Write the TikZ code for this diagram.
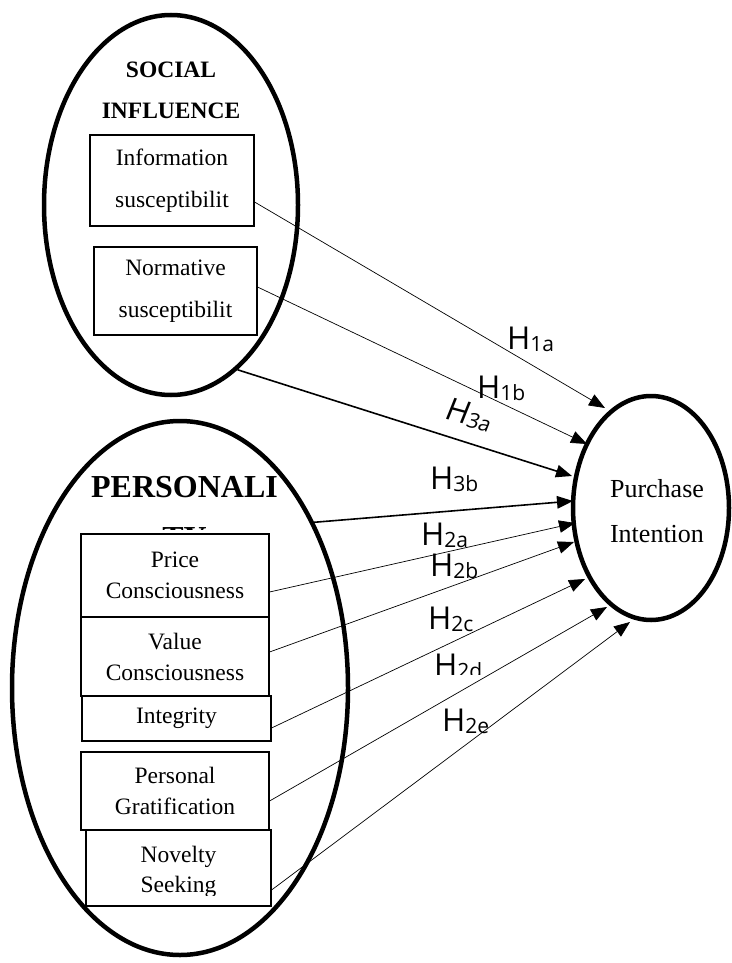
\documentclass[tikz,border=0pt]{standalone}
\usepackage{fontspec}
\setmainfont{Liberation Serif}
\newfontfamily\hfont{Open Sans}
\newfontfamily\hslant[FakeSlant=0.12]{Open Sans}
\usetikzlibrary{shapes.geometric,arrows.meta,calc}

% hypothesis label: H with a lowered subscript
\newcommand{\hyp}[1]{{\fontsize{31.5}{32}\hfont H}\raisebox{-2.5pt}{\fontsize{21}{22}\hfont #1}}
\newcommand{\hypit}[1]{{\fontsize{31.5}{32}\hslant H}\raisebox{-2.5pt}{\fontsize{21}{22}\hslant #1}}

\tikzset{
  group/.style={draw, ellipse, line width=4.5pt, inner sep=0pt},
  factor/.style={draw, line width=1.1pt, inner sep=0pt, align=center,
    font=\fontsize{23.5}{31}\selectfont},
  hlabel/.style={inner sep=0pt, anchor=base west},
  link/.style={line width=0.7pt, -{Triangle[length=16pt,width=12.5pt]}},
  boldlink/.style={line width=1.6pt, -{Triangle[length=16pt,width=12.5pt]}},
}

\begin{document}
\begin{tikzpicture}[x=1pt,y=-1pt]
\useasboundingbox (0,0) rectangle (731,963);

% the three constructs
\node[group, minimum width=254pt, minimum height=380pt] (social) at (171,205) {};
\node[group, minimum width=336pt, minimum height=534pt] (person) at (180,688) {};
\node[group, minimum width=156pt, minimum height=224pt, align=center,
      font=\fontsize{26}{45}\selectfont] (purchase) at (651,508) {};
\node[inner sep=0pt, align=center, anchor=base,
      font=\fontsize{26}{45}\selectfont] (purchasetext) at (657,542) {Purchase\\Intention};

% group titles (base anchor sits on the last line)
\node[inner sep=0pt, align=center, anchor=base,
      font=\fontsize{23.5}{41}\selectfont\bfseries] (socialtitle) at (171,119) {SOCIAL\\INFLUENCE};
\node[inner sep=0pt, anchor=base, font=\fontsize{32}{36}\selectfont\bfseries]
      (persontitle) at (184.5,497) {PERSONALI};
\begin{scope}
  \clip (140,526) rectangle (230,529.6);
  \node[inner sep=0pt, anchor=north, font=\fontsize{32}{36}\selectfont\bfseries]
      (persontail) at (184.5,527) {TY};
\end{scope}

% social influence factors
\node[factor, minimum width=164pt, minimum height=91pt,
      font=\fontsize{23.5}{42}\selectfont] (info) at (172,180.5) {Information\\susceptibilit};
\node[factor, minimum width=163pt, minimum height=88pt,
      font=\fontsize{23.5}{42}\selectfont] (norm) at (175.5,291) {Normative\\susceptibilit};

% personality factors
\node[factor, minimum width=188pt, minimum height=83pt] (price) at (175,575.5) {Price\\Consciousness};
\node[factor, minimum width=188pt, minimum height=79pt] (value) at (175,656.5) {Value\\Consciousness};
\node[factor, minimum width=189pt, minimum height=45pt] (integ) at (176.5,718.5) {Integrity};
\node[factor, minimum width=188pt, minimum height=78pt] (pers) at (175,791) {Personal\\Gratification};
\node[factor, minimum width=185pt, minimum height=76pt] (nov) at (178.5,868) {};
\begin{scope}
  \clip (86,830) rectangle (271,895);
  \node[inner sep=0pt, align=center, font=\fontsize{23.5}{30}\selectfont]
      (novtext) at (178.5,872) {Novelty\\Seeking};
\end{scope}

% arrow targets around the outcome
\coordinate (t1a) at (605,408);
\coordinate (t1b) at (587,444);
\coordinate (t3a) at (572,476);
\coordinate (t3b) at (573,501);
\coordinate (t2a) at (575,523);
\coordinate (t2b) at (574,542);
\coordinate (t2c) at (585,579);
\coordinate (t2d) at (607,607);
\coordinate (t2e) at (630,622);

% hypothesised paths
\draw[link] ($(info.east)+(0,21.5)$) -- (t1a);
\draw[link] ($(norm.east)+(0,-4)$) -- (t1b);
\draw[boldlink] (social.-68) -- (t3a);
\draw[boldlink] (person.51) -- (t3b);
\draw[link] ($(price.east)+(0,16.5)$) -- (t2a);
\draw[link] ($(value.east)+(0,-4.5)$) -- (t2b);
\draw[link] ($(integ.east)+(0,9.5)$) -- (t2c);
\draw[link] ($(pers.east)+(0,10)$) -- (t2d);
\draw[link] ($(nov.east)+(0,22)$) -- (t2e);

% hypothesis labels
\node[hlabel] (h1a) at (507,349) {\hyp{1a}};
\node[hlabel] (h1b) at (477,398) {\hyp{1b}};
\node[hlabel, rotate=-15] (h3a) at (443,418) {\hypit{3a}};
\node[hlabel] (h3b) at (430,489) {\hyp{3b}};
\node[hlabel] (h2a) at (421,545) {\hyp{2a}};
\node[hlabel] (h2b) at (430,576) {\hyp{2b}};
\node[hlabel] (h2c) at (428,629) {\hyp{2c}};
\begin{scope}
  \clip (420,640) rectangle (500,674.5);
  \node[hlabel] (h2d) at (434,676) {\hyp{2d}};
\end{scope}
\node[hlabel] (h2e) at (442,731) {\hyp{2e}};
\end{tikzpicture}
\end{document}
